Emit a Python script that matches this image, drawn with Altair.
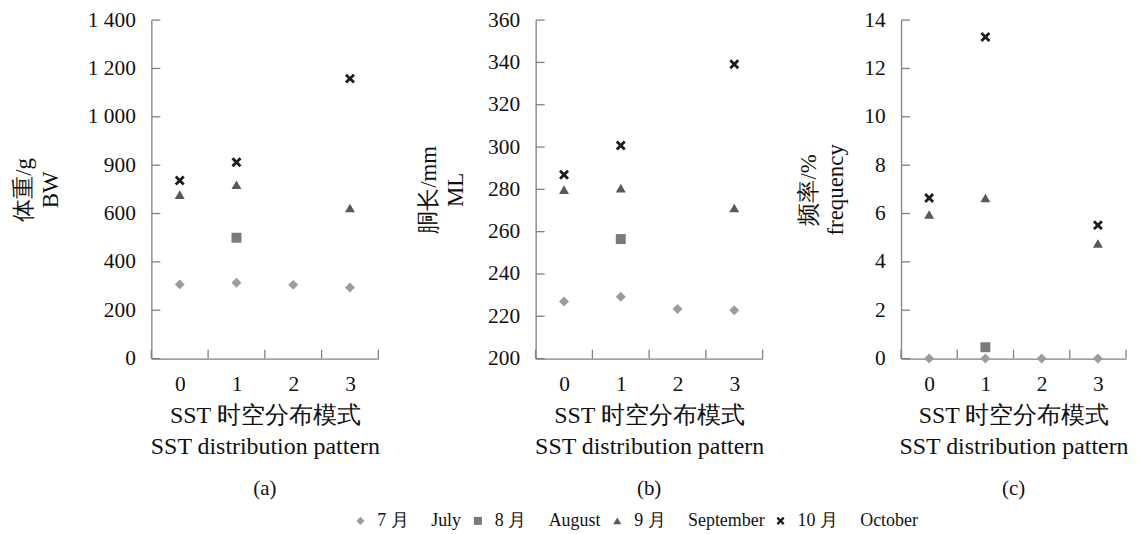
import altair as alt
import pandas as pd
import json

FONT = "Liberation Serif"
AX = "#808080"
TXT = "#111111"

patterns = [0, 1, 2, 3]
months = ["7 月\u2003\u2005July", "8 月\u2003\u2005August", "9 月\u2003\u2005September", "10 月\u2003\u2005October"]

# (a) body weight BW / g
bw_july = [307, 314, 305, 294]
bw_aug = [None, 500, None, None]
bw_sep = [678, 719, None, 623]
bw_oct = [737, 812, None, 1158]

# (b) mantle length ML / mm
ml_july = [227.0, 229.2, 223.4, 222.9]
ml_aug = [None, 256.5, None, None]
ml_sep = [279.9, 280.6, None, 271.2]
ml_oct = [286.9, 300.7, None, 339.1]

# (c) frequency / %
fr_july = [0, 0, 0, 0]
fr_aug = [None, 0.47, None, None]
fr_sep = [5.96, 6.64, None, 4.76]
fr_oct = [6.64, 13.3, None, 5.52]

bw_ticks = [0, 200, 400, 600, 800, 1000, 1200, 1400]
bw_tick_labels = ["0", "200", "400", "600", "900", "1 000", "1 200", "1 400"]
ml_ticks = [200, 220, 240, 260, 280, 300, 320, 340, 360]
fr_ticks = [0, 2, 4, 6, 8, 10, 12, 14]
x_bounds = [-0.5, 0.5, 1.5, 2.5, 3.5]

colors = ["#9c9c9c", "#7a7a7a", "#595959", "#1c1c1c"]
XPATH = ("M-0.6,-1L0,-0.4L0.6,-1L1,-0.6L0.4,0L1,0.6L0.6,1L0,0.4L-0.6,1L-1,0.6L-0.4,0L-1,-0.6Z")
shapes = ["diamond", "square", "triangle-up", XPATH]

H = 340


def panel(series, ydomain, yticks, ytitle, letter, width, pw, dx, tpad, tick_labels=None):
    rows = []
    for m, vals in zip(months, series):
        for p, v in zip(patterns, vals):
            if v is not None:
                rows.append({"pattern": p, "month": m, "value": v})
    df = pd.DataFrame(rows)
    xs = alt.Scale(domain=[-0.5, 3.5], range=[0, pw], nice=False, zero=False)
    ys = alt.Scale(domain=ydomain, nice=False, zero=False)
    yargs = dict(values=yticks, ticks=False, tickSize=0, grid=False, labelPadding=16,
                 title=ytitle, titlePadding=tpad, titleLineHeight=27,
                 labelFont=FONT, titleFont=FONT, labelFontSize=21.5, titleFontSize=23,
                 labelColor=TXT, titleColor=TXT, domainColor=AX, domainWidth=1.3)
    if tick_labels is not None:
        yargs["labelExpr"] = "%s[indexof(%s, datum.value)]" % (json.dumps(tick_labels), json.dumps(yticks))
    yaxis = alt.Axis(**yargs)
    xaxis = alt.Axis(values=patterns, ticks=False, tickSize=0, grid=False, labelPadding=15,
                     labelFlush=False, labelOverlap=False,
                     title=["SST 时空分布模式", "SST distribution pattern"], titlePadding=9,
                     titleLineHeight=31,
                     labelFont=FONT, titleFont=FONT, labelFontSize=21.5, titleFontSize=24,
                     labelColor=TXT, titleColor=TXT, domainColor=AX, domainWidth=1.3)
    leg = alt.Legend(orient="none", legendX=201, legendY=494, direction="horizontal", title=None,
                     columns=4, columnPadding=7, symbolSize=65, labelFontSize=18,
                     labelFont=FONT, labelColor=TXT, symbolStrokeWidth=0, labelOffset=8)
    pts = alt.Chart(df).mark_point(filled=True, opacity=1, size=100, strokeWidth=0).encode(
        x=alt.X("pattern:Q", scale=xs, axis=xaxis),
        y=alt.Y("value:Q", scale=ys, axis=yaxis),
        color=alt.Color("month:N", scale=alt.Scale(domain=months, range=colors), legend=leg),
        shape=alt.Shape("month:N", scale=alt.Scale(domain=months, range=shapes), legend=leg),
    )
    yt = alt.Chart(pd.DataFrame({"value": yticks})).mark_rule(color=AX, strokeWidth=1.3).encode(
        y=alt.Y("value:Q", scale=ys, axis=yaxis), x=alt.value(0), x2=alt.value(9))
    xt = alt.Chart(pd.DataFrame({"pattern": x_bounds})).mark_rule(color=AX, strokeWidth=1.3).encode(
        x=alt.X("pattern:Q", scale=xs, axis=xaxis), y=alt.value(H - 9), y2=alt.value(H))
    return alt.layer(yt, xt, pts).properties(
        width=width, height=H,
        title=alt.TitleParams(letter, orient="bottom", dx=dx, offset=20))


pa = panel([bw_july, bw_aug, bw_sep, bw_oct], [0, 1400], bw_ticks, ["体重/g", "BW"], "(a)",
           247, 228, -9.5, 25, bw_tick_labels)
pb = panel([ml_july, ml_aug, ml_sep, ml_oct], [200, 360], ml_ticks, ["胴长/mm", "ML"], "(b)",
           228, 228, 0, 20)
pc = panel([fr_july, fr_aug, fr_sep, fr_oct], [0, 14], fr_ticks, ["频率/%", "frequency"], "(c)",
           226, 226, 0, 16)

chart = alt.hconcat(pa, pb, pc, spacing=139, bounds="flush").properties(
    padding={"left": 4, "top": 0, "right": 0, "bottom": 0}
).configure_axis(
    labelFont=FONT, titleFont=FONT, labelFontSize=21.5, titleFontSize=23,
    labelColor=TXT, titleColor=TXT, domainColor=AX, domainWidth=1.3,
    titleFontWeight="normal"
).configure_view(stroke=None).configure_title(
    font=FONT, fontSize=21, fontWeight="normal", color=TXT
).configure_legend(labelColor=TXT, labelFont=FONT)

chart.save("out.html", embed_options={"renderer": "svg", "actions": False})
